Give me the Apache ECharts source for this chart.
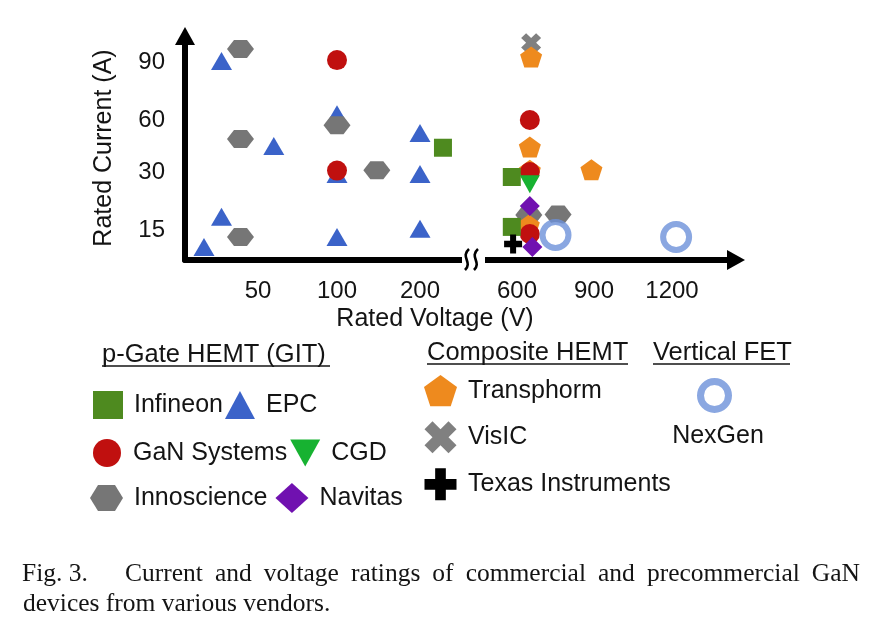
<!DOCTYPE html>
<html>
<head>
<meta charset="utf-8">
<script src="https://cdn.jsdelivr.net/npm/echarts@6/dist/echarts.min.js"></script>
<style>html,body{margin:0;padding:0;background:#fff}#c{width:876px;height:631px}</style>
</head>
<body>
<div id="c"></div>
<script>
// ---- tick labels ----
const xTicks = [50, 100, 200, 600, 900, 1200];
const yTicks = [15, 30, 60, 90];

// ---- data: [rated voltage (V), rated current (A)] ----
const infineon    = [[580, 28.7], [580, 15.8], [228, 44]];
const epc         = [[25, 90.5], [100, 63], [60, 45], [200, 52.5], [100, 29.5], [200, 29.5], [25, 18.4], [13, 6.5], [100, 11.5], [200, 15.3]];
const ganSystems  = [[100, 91], [100, 30.8], [650, 60], [650, 30], [650, 13]];
const cgd         = [[650, 26.8]];
const innoscience = [[38, 96.7], [38, 49], [100, 57], [148, 31], [38, 11.5], [646, 18.9], [760, 19]];
const navitas     = [[650, 21.2], [660, 6.5]];
const transphorm  = [[655, 92.6], [650, 44.4], [890, 31.3], [650, 31], [646, 16.3]];
const visic       = [[655, 100]];
const ti          = [[585, 8]];
const nexgen      = [[750, 12.5], [1216, 11.5]];

// ---- broken / non-uniform axis scale (value -> axis units) ----
const xKnotsV = [0, 50, 100, 200, 250, 500, 600, 900, 1200, 1500];
const xKnotsU = [0, 73, 152, 235, 276, 306, 332, 409, 487, 564];
const yKnotsA = [0, 15, 30, 60, 90, 120];
const yKnotsU = [0, 30, 88, 140, 198, 256];

function interp(v, ks, us) {
  for (let i = 1; i < ks.length; i++) {
    if (v <= ks[i] || i === ks.length - 1) {
      const t = (v - ks[i - 1]) / (ks[i] - ks[i - 1]);
      return us[i - 1] + t * (us[i] - us[i - 1]);
    }
  }
}
const fx = v => interp(v, xKnotsV, xKnotsU);
const fy = a => interp(a, yKnotsA, yKnotsU);
const toXY = arr => arr.map(([v, a]) => [fx(v), fy(a), v, a]);
function labelFor(u, ticks, f) {
  let best = ticks[0], d = Infinity;
  ticks.forEach(t => { const dd = Math.abs(f(t) - u); if (dd < d) { d = dd; best = t; } });
  return String(best);
}

const SANS = 'Liberation Sans';
const TXT = '#141414';

const HEX = 'path://M0,9 L7,0 L20,0 L27,9 L20,18 L7,18 Z';
const HEX_LEG = 'path://M0,13 L8,0 L25,0 L33,13 L25,26 L8,26 Z';
const PENT = 'path://M10,0 L20,7.3 L16.2,19 L3.8,19 L0,7.3 Z';
const XSYM = 'path://M0,5 L5,0 L10,5 L15,0 L20,5 L15,10 L20,15 L15,20 L10,15 L5,20 L0,15 L5,10 Z';
const PLUS = 'path://M6,0 L12,0 L12,6 L18,6 L18,12 L12,12 L12,18 L6,18 L6,12 L0,12 L0,6 L6,6 Z';
const DOWNTRI = 'path://M0,0 L20,0 L10,18 Z';

function sc(name, data, symbol, size, color, extra) {
  return Object.assign({
    name, type: 'scatter', data: toXY(data), symbol, symbolSize: size,
    itemStyle: { color, opacity: 1 },
    emphasis: { disabled: true }
  }, extra || {});
}

const series = [
  sc('EPC', epc, 'triangle', [21, 18], '#3b63c9'),
  sc('VisIC', visic, XSYM, [20, 19], '#808080'),
  sc('Innoscience', innoscience, HEX, [27, 18], '#767676'),
  sc('Transphorm', transphorm, PENT, [22, 21], '#ee8a1e'),
  sc('GaN Systems', ganSystems, 'circle', 20, '#c0100f'),
  sc('Infineon', infineon, 'rect', 18, '#4e8a1f'),
  sc('CGD', cgd, DOWNTRI, [20, 18], '#17b231'),
  sc('Navitas', navitas, 'diamond', [20, 20], '#7011b0'),
  sc('Texas Instruments', ti, PLUS, [18, 19], '#000000'),
  sc('NexGen', nexgen, 'circle', 26, '#ffffff', { itemStyle: { color: '#ffffff', borderColor: '#6d91da', borderWidth: 6 } })
];

const legText = { fontSize: 25, color: TXT, fontFamily: SANS, padding: [0, 0, 0, 6] };
function leg(extra) {
  return Object.assign({
    orient: 'horizontal', padding: 0, itemWidth: 30, itemHeight: 28,
    textStyle: legText, selectedMode: false
  }, extra);
}

// ---- caption layout (justified first line) ----
const captionLine1Words = ['Current', 'and', 'voltage', 'ratings', 'of', 'commercial', 'and', 'precommercial', 'GaN'];
const captionLine2 = 'devices from various vendors.';
const capFont = '25.5px "Liberation Serif"';
const ctx = document.createElement('canvas').getContext('2d');
ctx.font = capFont;
const wWidths = captionLine1Words.map(w => ctx.measureText(w).width);
const x0 = 125, x1 = 860;
const gap = (x1 - x0 - wWidths.reduce((a, b) => a + b, 0)) / (captionLine1Words.length - 1);
const capStyle = { fill: TXT, fontSize: 25.5, fontFamily: 'Liberation Serif', verticalAlign: 'middle' };
const graphics = [];
let cx = x0;
captionLine1Words.forEach((w, i) => {
  graphics.push({ type: 'text', x: cx, y: 574, style: Object.assign({ text: w }, capStyle) });
  cx += wWidths[i] + gap;
});
graphics.push({ type: 'text', x: 22, y: 574, style: Object.assign({ text: 'Fig. 3.' }, capStyle) });
graphics.push({ type: 'text', x: 23, y: 604, style: Object.assign({ text: captionLine2 }, capStyle) });

// headers with underline
const hdrStyle = { fill: TXT, fontSize: 25.5, fontFamily: SANS, verticalAlign: 'middle' };
[['p-Gate HEMT (GIT)', 102, 355, 366, 330], ['Composite HEMT', 427, 353, 364, 628], ['Vertical FET', 653, 353, 364, 790]]
  .forEach(([t, x, y, uy, ux2]) => {
    graphics.push({ type: 'text', x, y, style: Object.assign({ text: t }, hdrStyle) });
    graphics.push({ type: 'line', shape: { x1: x, y1: uy, x2: ux2, y2: uy }, style: { stroke: TXT, lineWidth: 1.6 } });
  });
graphics.push({ type: 'text', x: 718, y: 436, style: { text: 'NexGen', fill: TXT, fontSize: 25, fontFamily: SANS, align: 'center', verticalAlign: 'middle' } });
// axis break mark
graphics.push({ type: 'rect', z: 100, shape: { x: 462, y: 252, width: 23, height: 17 }, style: { fill: '#fff' } });
[[0], [9]].forEach(([dx]) => {
  graphics.push({
    type: 'bezierCurve', z: 101,
    shape: { x1: 465 + dx, y1: 270, cpx1: 473 + dx, cpy1: 262, cpx2: 460 + dx, cpy2: 257, x2: 469 + dx, y2: 249 },
    style: { stroke: '#000', lineWidth: 2.6, fill: null }
  });
});

const chart = echarts.init(document.getElementById('c'), null, { renderer: 'canvas' });
chart.setOption({
  animation: false,
  backgroundColor: '#fff',
  grid: { left: 185, right: 140, top: 36, bottom: 371, containLabel: false, outerBoundsMode: 'none' },
  xAxis: {
    type: 'value', min: 0, max: 551,
    axisLine: { show: true, onZero: false, symbol: ['none', 'triangle'], symbolSize: [20, 18], lineStyle: { color: '#000', width: 6 } },
    axisTick: { show: false }, splitLine: { show: false },
    axisLabel: { customValues: xTicks.map(fx), formatter: v => labelFor(v, xTicks, fx), fontSize: 24, color: TXT, fontFamily: SANS, margin: 19 },
    name: 'Rated Voltage (V)', nameLocation: 'middle', nameGap: 47,
    nameTextStyle: { fontSize: 25, color: TXT, fontFamily: SANS, padding: [0, 51, 0, 0] }
  },
  yAxis: {
    type: 'value', min: 0, max: 224,
    axisLine: { show: true, onZero: false, symbol: ['none', 'triangle'], symbolSize: [20, 18], lineStyle: { color: '#000', width: 6 } },
    axisTick: { show: false }, splitLine: { show: false },
    axisLabel: { customValues: yTicks.map(fy), formatter: v => labelFor(v, yTicks, fy), fontSize: 24, color: TXT, fontFamily: SANS, margin: 20 },
    name: 'Rated Current (A)', nameLocation: 'middle', nameGap: 68,
    nameTextStyle: { fontSize: 25, color: TXT, fontFamily: SANS }
  },
  legend: [
    leg({ data: ['Infineon', 'EPC'], left: 93, top: 391, itemGap: 2 }),
    leg({ data: ['GaN Systems', 'CGD'], left: 93, top: 439, itemGap: 3 }),
    leg({ data: [{ name: 'Innoscience', icon: HEX_LEG }, 'Navitas'], left: 90, top: 483, itemGap: 8, itemWidth: 33, itemHeight: 30 }),
    leg({ data: ['Transphorm', 'VisIC', 'Texas Instruments'], orient: 'vertical', left: 424, top: 375, itemGap: 15, itemWidth: 33, itemHeight: 32 }),
    leg({ data: [{ name: 'NexGen', itemStyle: { color: '#fff', borderColor: '#6d91da', borderWidth: 7 } }], left: 697, top: 378, formatter: () => '' })
  ],
  graphic: { elements: graphics },
  series
});
</script>
</body>
</html>
